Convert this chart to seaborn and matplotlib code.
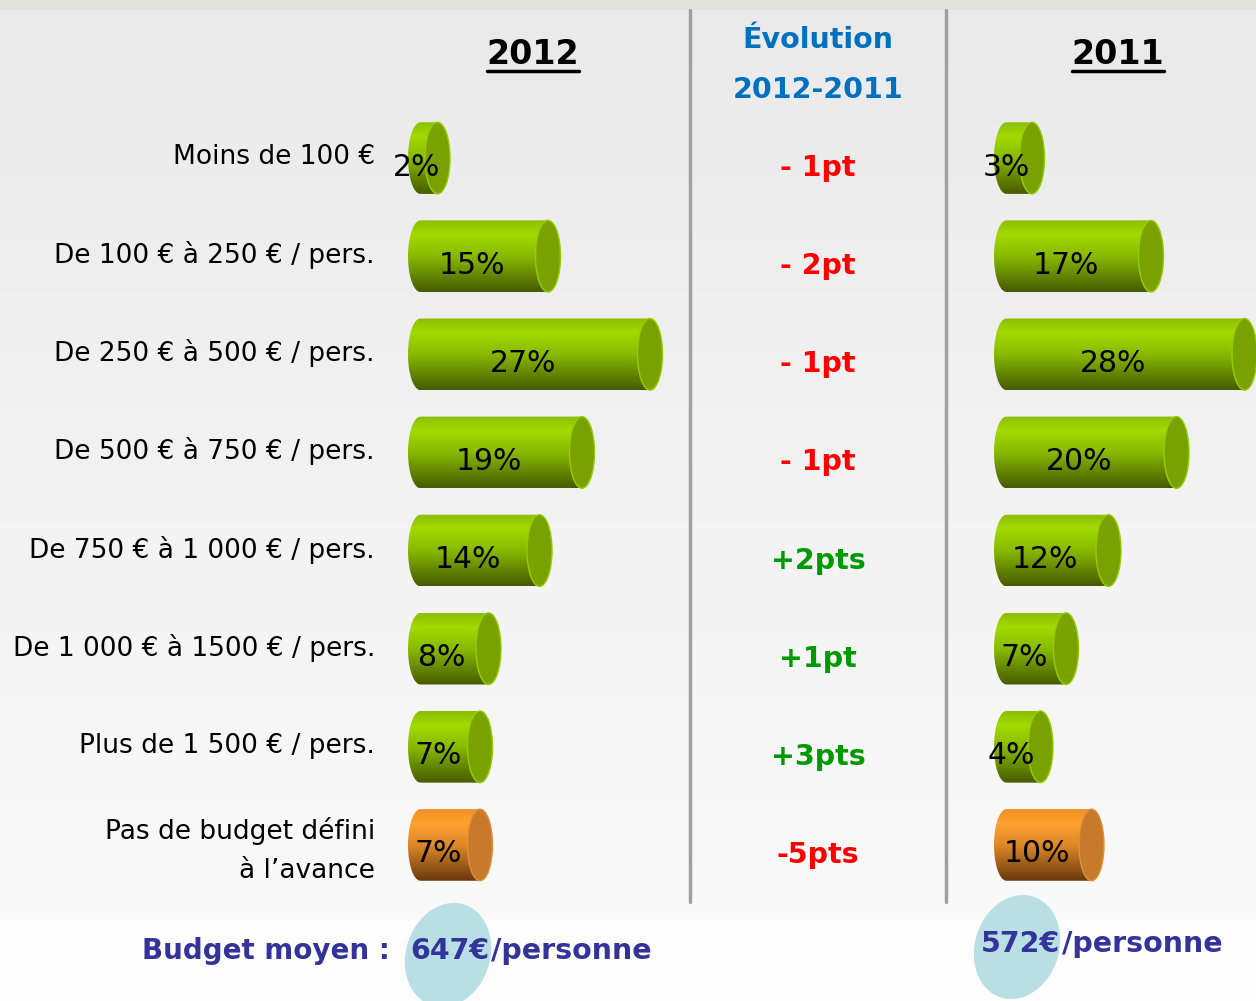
import numpy as np
import matplotlib
matplotlib.use("Agg")
import matplotlib.pyplot as plt
import matplotlib.transforms as mtransforms
from matplotlib.patches import Ellipse, Polygon
from matplotlib.colors import LinearSegmentedColormap
import seaborn as sns

# data
categories = ["Moins de 100 €", "De 100 € à 250 € / pers.", "De 250 € à 500 € / pers.",
              "De 500 € à 750 € / pers.", "De 750 € à 1 000 € / pers.",
              "De 1 000 € à 1500 € / pers.", "Plus de 1 500 € / pers.",
              "Pas de budget défini\nà l’avance"]
values_2012 = [2, 15, 27, 19, 14, 8, 7, 7]
values_2011 = [3, 17, 28, 20, 12, 7, 4, 10]
evolution = ["- 1pt", "- 2pt", "- 1pt", "- 1pt", "+2pts", "+1pt", "+3pts", "-5pts"]
budget_2012 = "647€"
budget_2011 = "572€"

sns.set_theme(style="white")
plt.rcParams['font.family'] = ['DejaVu Sans']

W, H = 1256, 1001
PX = 8.5  # pixels per percent
fig = plt.figure(figsize=(W / 100, H / 100), dpi=100)

# background
bg = fig.add_axes([0, 0, 1, 1])
grad = np.linspace(0, 1, 256).reshape(-1, 1)
bg_cmap = LinearSegmentedColormap.from_list("bg", ["#EAEAEA", "#FAFAFA"])
bg.imshow(grad, cmap=bg_cmap, extent=[0, W, 920, 10], aspect='auto', zorder=0)
bg.axhspan(920, H, color="#FDFDFD", zorder=0, lw=0)
bg.axhspan(0, 10, color="#E1E2DC", zorder=0, lw=0)
bg.set_xlim(0, W)
bg.set_ylim(H, 0)
bg.axis('off')

for xl in [690, 946]:
    bg.plot([xl, xl], [10, 902], color="#A0A0A0", lw=2.5, zorder=1)

# titles
for txt, xc, x0, x1 in [("2012", 533, 487, 579), ("2011", 1118, 1072, 1164)]:
    bg.text(xc, 55, txt, ha='center', va='center', fontsize=24, fontweight='bold', color='black')
    bg.plot([x0, x1], [71, 71], color='black', lw=2.5)
bg.text(818, 40, "Évolution", ha='center', va='center', fontsize=20.5, fontweight='bold', color='#0070C0')
bg.text(818, 90, "2012-2011", ha='center', va='center', fontsize=20.5, fontweight='bold', color='#0070C0')

# budget bubbles
blue = '#333399'
bg.add_patch(Ellipse((448, 955), 84, 106, angle=18, facecolor="#B8E0E4", edgecolor='none', zorder=2))
bg.add_patch(Ellipse((1017, 947), 84, 106, angle=18, facecolor="#B8E0E4", edgecolor='none', zorder=2))
bg.text(400, 951, "Budget moyen : ", ha='right', va='center', fontsize=20, fontweight='bold', color=blue, zorder=3)
bg.text(410, 951, budget_2012, ha='left', va='center', fontsize=20.5, fontweight='bold', color=blue, zorder=3)
bg.text(491, 951, "/personne", ha='left', va='center', fontsize=20.5, fontweight='bold', color=blue, zorder=3)
bg.text(981, 944, budget_2011, ha='left', va='center', fontsize=20.5, fontweight='bold', color=blue, zorder=3)
bg.text(1062, 944, "/personne", ha='left', va='center', fontsize=20.5, fontweight='bold', color=blue, zorder=3)

green = LinearSegmentedColormap.from_list("g", [(0, "#8CBE00"), (0.2, "#A2DA00"), (0.5, "#88BA00"), (1, "#465A00")])
orange = LinearSegmentedColormap.from_list("o", [(0, "#F09024"), (0.2, "#FFA232"), (0.5, "#DE8828"), (1, "#68380E")])


def cylinder(ax, v, yc, h, cmap, cap, rim):
    a = 12.5 / PX
    t = np.linspace(np.pi / 2, 3 * np.pi / 2, 40)
    xs = list(a + a * np.cos(t)) + [v + a, v + a]
    ys = list(yc - (h / 2) * np.sin(t)) + [yc + h / 2, yc - h / 2]
    poly = Polygon(np.column_stack([xs, ys]), closed=True, fill=False, lw=0, transform=ax.transData)
    ax.add_patch(poly)
    im = ax.imshow(grad, cmap=cmap, extent=[0, v + a, yc + h / 2, yc - h / 2],
                   aspect='auto', interpolation='bilinear', zorder=2)
    im.set_clip_path(poly)
    im.set_clip_on(True)
    ax.add_patch(Ellipse((v + a, yc), 2 * a, h, facecolor=cap, edgecolor=rim, lw=1,
                         zorder=3, clip_on=False))


def panel(left_px, xmax, values, show_labels):
    ax = fig.add_axes([left_px / W, (H - 894) / H, xmax * PX / W, 785 / H])
    ax.patch.set_alpha(0)
    sns.barplot(x=values, y=categories, ax=ax, orient='h', width=0.73, color="#8DC000")
    for i, p in enumerate(ax.patches):
        v = p.get_width()
        yc = p.get_y() + p.get_height() / 2
        h = p.get_height()
        p.set_visible(False)
        if i == len(categories) - 1:
            cylinder(ax, v, yc, h, orange, "#C87A2C", "#E0923A")
        else:
            cylinder(ax, v, yc, h, green, "#79A200", "#96CC00")
        off = mtransforms.offset_copy(ax.transData, fig=fig, x=0, y=-9, units='dots')
        ax.text(v / 2, yc, f"{v:g}%", ha='center', va='center', fontsize=21.5,
                color='black', transform=off, zorder=5, clip_on=False)
    ax.set_xlim(0, xmax)
    ax.set_ylim(len(categories) - 0.5, -0.5)
    ax.set_xlabel('')
    ax.set_ylabel('')
    ax.set_xticks([])
    sns.despine(ax=ax, left=True, bottom=True)
    if show_labels:
        ax.tick_params(axis='y', length=0, pad=23.8, labelsize=19)
        shift = mtransforms.ScaledTranslation(0, 4 / 100, fig.dpi_scale_trans)
        for lab in ax.get_yticklabels():
            lab.set_transform(lab.get_transform() + shift)
            lab.set_linespacing(1.65)
            lab.set_color('black')
    else:
        ax.set_yticks([])
    return ax


ax1 = panel(408, 32, values_2012, True)
ax2 = panel(994, 30, values_2011, False)

# evolution column aligned with rows
tr = mtransforms.blended_transform_factory(bg.transData, ax1.transData)
tr = tr + mtransforms.ScaledTranslation(0, -10 / 100, fig.dpi_scale_trans)
for i, e in enumerate(evolution):
    col = '#009900' if e.startswith('+') else '#FF0000'
    bg.text(818, i, e, ha='center', va='center', fontsize=20.5, fontweight='bold',
            color=col, transform=tr, zorder=4)

fig.savefig("out.png", dpi=100)
